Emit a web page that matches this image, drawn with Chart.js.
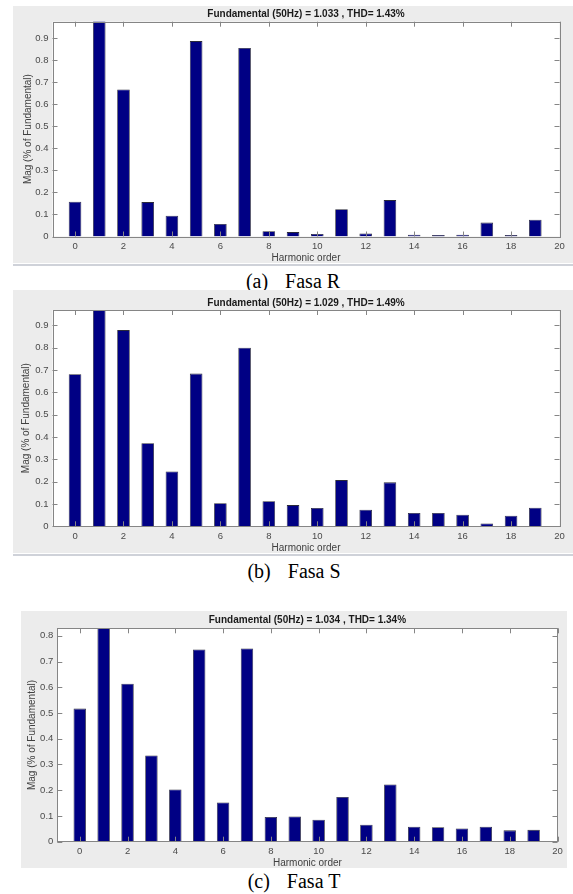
<!DOCTYPE html>
<html>
<head>
<meta charset="utf-8">
<script src="https://cdn.jsdelivr.net/npm/chart.js@4.4.1/dist/chart.umd.min.js"></script>
<style>
  body { margin: 0; background: #fff; width: 573px; height: 894px; position: relative; overflow: hidden; }
  .panel { position: absolute; background: #ececec; }
  .sep { position: absolute; height: 2px; background: #cfd2d9; }
  canvas { position: absolute; }
  .cap { position: absolute; font-family: 'Liberation Serif', 'Times New Roman', serif; font-size: 20px;
         line-height: 20px; color: #000; white-space: nowrap; transform: translate(-50%, -50%); }
  .cap span + span { margin-left: 17px; }
</style>
</head>
<body>
<div class="panel" style="left:13px;top:6px;width:560px;height:257px"></div>
<div class="sep" style="left:13px;top:264px;width:560px"></div>
<div class="cap" style="left:293px;top:281px"><span>(a)</span><span>Fasa R</span></div>

<div class="panel" style="left:13px;top:290px;width:560px;height:263px"></div>
<div class="sep" style="left:13px;top:554px;width:560px"></div>
<div class="cap" style="left:294px;top:571px"><span>(b)</span><span>Fasa S</span></div>

<div class="panel" style="left:21px;top:611px;width:546px;height:257px"></div>
<div class="cap" style="left:294px;top:881px"><span>(c)</span><span>Fasa T</span></div>

<canvas id="chartR"></canvas>
<canvas id="chartS"></canvas>
<canvas id="chartT"></canvas>

<script>
// harmonic order 0..19
const harmonics = [0, 1, 2, 3, 4, 5, 6, 7, 8, 9, 10, 11, 12, 13, 14, 15, 16, 17, 18, 19];

// Mag (% of Fundamental) (order 1 runs off the top of the axes)
const fasaR = [0.158, 1.0, 0.667, 0.156, 0.094, 0.886, 0.057, 0.855, 0.024, 0.020,
               0.011, 0.124, 0.014, 0.165, 0.008, 0.007, 0.008, 0.063, 0.007, 0.076];
const fasaS = [0.681, 1.0, 0.879, 0.372, 0.246, 0.684, 0.103, 0.800, 0.112, 0.095,
               0.082, 0.207, 0.074, 0.197, 0.060, 0.060, 0.052, 0.013, 0.047, 0.083];
const fasaT = [0.517, 1.0, 0.614, 0.335, 0.203, 0.747, 0.152, 0.751, 0.096, 0.098,
               0.085, 0.174, 0.066, 0.222, 0.058, 0.056, 0.051, 0.058, 0.044, 0.046];

const xTicks = [0, 2, 4, 6, 8, 10, 12, 14, 16, 18, 20];
const yTicksRS = [0, 0.1, 0.2, 0.3, 0.4, 0.5, 0.6, 0.7, 0.8, 0.9];
const yTicksT = [0, 0.1, 0.2, 0.3, 0.4, 0.5, 0.6, 0.7, 0.8];

const titles = [
  'Fundamental (50Hz) = 1.033 , THD= 1.43%',
  'Fundamental (50Hz) = 1.029 , THD= 1.49%',
  'Fundamental (50Hz) = 1.034 , THD= 1.34%'
];

// white plot area, box and inward ticks like the matlab figure
const matlabAxes = {
  id: 'matlabAxes',
  beforeDraw(chart) {
    const { ctx, chartArea: a } = chart;
    ctx.save();
    ctx.fillStyle = '#ffffff';
    ctx.fillRect(a.left, a.top, a.right - a.left, a.bottom - a.top);
    ctx.restore();
  },
  afterDatasetsDraw(chart) {
    const { ctx, chartArea: a, scales: { x, y } } = chart;
    ctx.save();
    ctx.strokeStyle = '#858585';
    ctx.lineWidth = 1;
    ctx.beginPath();
    x.ticks.forEach(t => {
      const px = Math.round(x.getPixelForValue(t.value)) + 0.5;
      ctx.moveTo(px, a.bottom); ctx.lineTo(px, a.bottom - 5);
      ctx.moveTo(px, a.top); ctx.lineTo(px, a.top + 5);
    });
    y.ticks.forEach(t => {
      const py = Math.round(y.getPixelForValue(t.value)) + 0.5;
      ctx.moveTo(a.left, py); ctx.lineTo(a.left + 5, py);
      ctx.moveTo(a.right, py); ctx.lineTo(a.right - 5, py);
    });
    ctx.stroke();
    ctx.strokeRect(Math.round(a.left) + 0.5, Math.round(a.top) + 0.5,
                   Math.round(a.right - a.left), Math.round(a.bottom - a.top));
    ctx.restore();
  }
};

function makePanel(p) {
  const cv = document.getElementById(p.id);
  cv.width = p.box.w;
  cv.height = p.box.h;
  cv.style.left = p.box.l + 'px';
  cv.style.top = p.box.t + 'px';

  const titleTop = p.titleY - p.box.t - 6;
  const titleBottom = p.area.t - p.box.t - 12 - titleTop;

  new Chart(cv, {
    type: 'bar',
    data: {
      datasets: [{
        data: harmonics.map((h, i) => ({ x: h, y: p.values[i] })),
        backgroundColor: '#000084',
        borderColor: '#2a2a3a',
        borderWidth: 0.8,
        barPercentage: 0.52,
        categoryPercentage: 1
      }]
    },
    options: {
      responsive: false,
      animation: false,
      layout: { padding: { left: 0, top: 0, bottom: 0, right: p.box.l + p.box.w - p.area.r } },
      plugins: {
        legend: { display: false },
        tooltip: { enabled: false },
        title: {
          display: true,
          text: p.title,
          fullSize: false,
          color: '#1a1a1a',
          font: { family: 'Liberation Sans, Arial, sans-serif', size: 10, weight: 'bold', lineHeight: 1.2 },
          padding: { top: titleTop, bottom: titleBottom }
        }
      },
      scales: {
        x: {
          type: 'linear',
          offset: false,
          min: p.xMin,
          max: 20,
          grid: { display: false, drawTicks: false, offset: false },
          border: { display: false },
          afterBuildTicks: s => { s.ticks = xTicks.map(v => ({ value: v })); },
          afterFit: s => { s.height = p.box.t + p.box.h - p.area.b; },
          ticks: {
            color: '#4a4a4a',
            padding: p.xTickY - p.area.b - 5.7,
            maxRotation: 0,
            autoSkip: false,
            font: { family: 'Liberation Sans, Arial, sans-serif', size: 9.5, lineHeight: 1.2 }
          },
          title: {
            display: true,
            text: 'Harmonic order',
            color: '#404040',
            font: { family: 'Liberation Sans, Arial, sans-serif', size: 10, lineHeight: 1.2 },
            padding: { top: 0, bottom: p.box.t + p.box.h - p.xTitleY - 6 }
          }
        },
        y: {
          min: 0,
          max: p.yMax,
          grid: { display: false, drawTicks: false },
          border: { display: false },
          afterBuildTicks: s => { s.ticks = p.yTicks.map(v => ({ value: v })); },
          afterFit: s => { s.width = p.area.l - p.box.l; },
          ticks: {
            color: '#4a4a4a',
            padding: 4,
            font: { family: 'Liberation Sans, Arial, sans-serif', size: 9.5, lineHeight: 1.2 }
          },
          title: {
            display: true,
            text: 'Mag (% of Fundamental)',
            color: '#404040',
            font: { family: 'Liberation Sans, Arial, sans-serif', size: 10, lineHeight: 1.2 },
            padding: { top: p.yTitleX - p.box.l - 6, bottom: 0 }
          }
        }
      }
    },
    plugins: [matlabAxes]
  });
}

makePanel({
  id: 'chartR', values: fasaR, title: titles[0], yTicks: yTicksRS, yMax: 0.974, xMin: -0.93,
  box: { l: 13, t: 6, w: 560, h: 263 }, area: { l: 52.5, t: 21.7, r: 559.5, b: 236.5 },
  titleY: 14, xTickY: 246.7, xTitleY: 258, yTitleX: 27.8
});
makePanel({
  id: 'chartS', values: fasaS, title: titles[1], yTicks: yTicksRS, yMax: 0.969, xMin: -0.93,
  box: { l: 13, t: 290, w: 560, h: 269 }, area: { l: 52.5, t: 310, r: 559.5, b: 526.3 },
  titleY: 303, xTickY: 536, xTitleY: 548.5, yTitleX: 26.5
});
makePanel({
  id: 'chartT', values: fasaT, title: titles[2], yTicks: yTicksT, yMax: 0.829, xMin: -0.94,
  box: { l: 21, t: 611, w: 552, h: 263 }, area: { l: 57.3, t: 628.3, r: 557.5, b: 841.7 },
  titleY: 620, xTickY: 851.7, xTitleY: 863.3, yTitleX: 32.5
});
</script>
</body>
</html>
